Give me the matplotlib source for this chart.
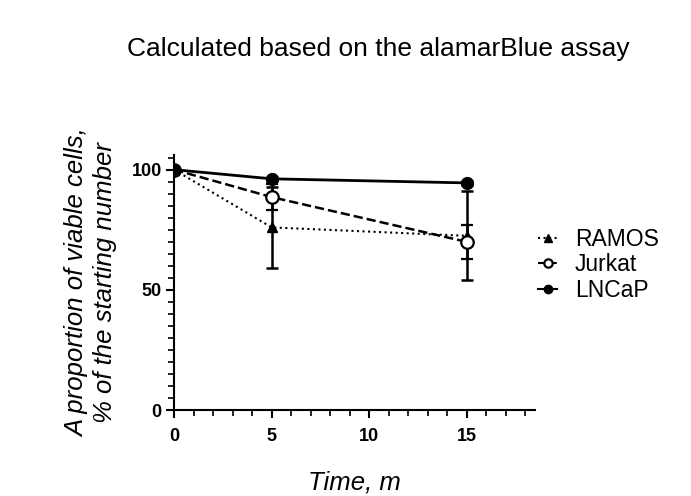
import numpy as np
import matplotlib.pyplot as plt
from matplotlib.ticker import MultipleLocator
from matplotlib.lines import Line2D

plt.rcParams['font.family'] = ['Liberation Sans', 'DejaVu Sans']

# datos
time = [0, 5, 15]
ramos = [100, 76, 72.5]
ramos_err = [0, 17, 18.5]
jurkat = [100, 88.6, 70]
jurkat_err = [0, 5.3, 7]
lncap = [100, 96.2, 94.5]
lncap_err = [0, 0.8, 0.8]
nombres = ['RAMOS', 'Jurkat', 'LNCaP']

fig = plt.figure(figsize=(6.91, 4.96), dpi=100)
ax = fig.add_axes([0.252, 0.173, 0.522, 0.514])

ax.errorbar(time, ramos, yerr=ramos_err, color='black', ls=':', lw=1.5,
            marker='^', ms=7, capsize=4, capthick=1.8, elinewidth=1.8)
ax.errorbar(time, jurkat, yerr=jurkat_err, color='black', ls='--', lw=1.8,
            marker='o', ms=9, mfc='white', mew=1.6, capsize=4, capthick=1.8,
            elinewidth=1.8)
ax.errorbar(time, lncap, yerr=lncap_err, color='black', ls='-', lw=2,
            marker='o', ms=8.5, capsize=4, capthick=1.8, elinewidth=1.8)

ax.set_xlim(0, 18.5)
ax.set_ylim(0, 106)
ax.spines['top'].set_visible(False)
ax.spines['right'].set_visible(False)
ax.spines['left'].set_linewidth(1.5)
ax.spines['bottom'].set_linewidth(1.5)

ax.set_xticks([0, 5, 10, 15])
ax.set_yticks([0, 50, 100])
ax.xaxis.set_minor_locator(MultipleLocator(1))
ax.yaxis.set_minor_locator(MultipleLocator(5))
ax.tick_params(which='major', length=6, width=1.5, labelsize=13, pad=3)
ax.tick_params(axis='x', which='major', pad=7)
ax.tick_params(which='minor', length=4, width=1.2)
for lab in ax.get_xticklabels() + ax.get_yticklabels():
    lab.set_fontweight('bold')

ax.set_xlabel('Time, m', fontsize=18.5, style='italic', labelpad=18)
ax.set_ylabel('A proportion of viable cells,\n% of the starting number', fontsize=18.5,
              style='italic', labelpad=10)
fig.suptitle('Calculated based on the alamarBlue assay', fontsize=19, x=0.548, y=0.925)

handles = [
    Line2D([], [], color='black', ls=':', lw=1.5, marker='^', ms=6),
    Line2D([], [], color='black', ls='--', lw=1.5, marker='o', ms=6, mfc='white', mew=1.6),
    Line2D([], [], color='black', ls='-', lw=1.5, marker='o', ms=6),
]
ax.legend(handles, nombres, loc='center left', bbox_to_anchor=(1.01, 0.57), frameon=False,
          fontsize=16.5, handlelength=0.8, handletextpad=0.8, labelspacing=0.12,
          borderaxespad=0, borderpad=0)

fig.savefig('out.png', dpi=100)
